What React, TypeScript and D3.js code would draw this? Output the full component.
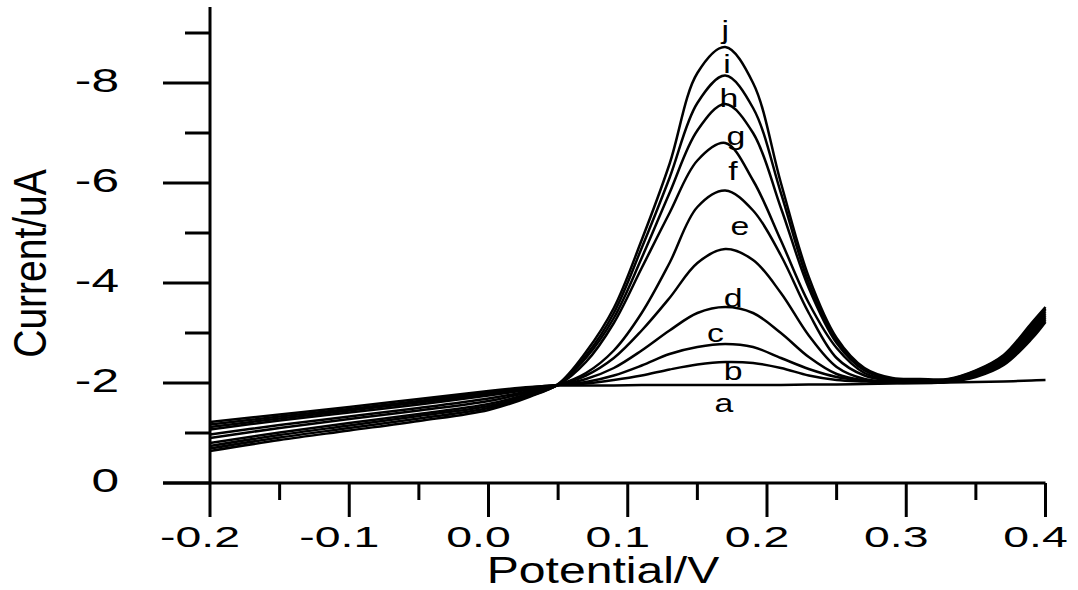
import React from "react";
import * as d3 from "d3";

const potentials = [-0.2, -0.15, -0.1, -0.05, 0.0, 0.03, 0.05, 0.07, 0.09, 0.11, 0.13, 0.15, 0.17, 0.19, 0.21, 0.23, 0.25, 0.27, 0.29, 0.31, 0.33, 0.35, 0.37, 0.39, 0.4];

const curveA = [-1.22, -1.37, -1.52, -1.68, -1.84, -1.92, -1.95, -1.95, -1.95, -1.96, -1.96, -1.96, -1.96, -1.96, -1.96, -1.97, -1.97, -1.98, -1.99, -2.0, -2.01, -2.02, -2.03, -2.05, -2.06];
const curveB = [-1.17, -1.33, -1.48, -1.64, -1.81, -1.91, -1.96, -1.99, -2.06, -2.15, -2.27, -2.37, -2.42, -2.4, -2.3, -2.15, -2.06, -2.03, -2.01, -2.0, -2.02, -2.12, -2.36, -2.88, -3.22];
const curveC = [-1.12, -1.29, -1.45, -1.61, -1.78, -1.89, -1.96, -2.02, -2.15, -2.35, -2.58, -2.72, -2.78, -2.72, -2.5, -2.28, -2.12, -2.05, -2.02, -2.01, -2.03, -2.14, -2.39, -2.92, -3.26];
const curveD = [-1.07, -1.25, -1.41, -1.57, -1.75, -1.87, -1.96, -2.08, -2.3, -2.65, -3.05, -3.4, -3.52, -3.4, -3.0, -2.52, -2.18, -2.05, -2.02, -2.02, -2.03, -2.16, -2.42, -2.96, -3.3];
const curveE = [-0.97, -1.16, -1.33, -1.5, -1.69, -1.84, -1.96, -2.15, -2.5, -3.05, -3.7, -4.4, -4.68, -4.46, -3.8, -2.95, -2.32, -2.08, -2.03, -2.02, -2.04, -2.18, -2.45, -3.0, -3.34];
const curveF = [-0.9, -1.1, -1.28, -1.45, -1.64, -1.82, -1.96, -2.2, -2.65, -3.4, -4.4, -5.52, -5.85, -5.45, -4.55, -3.4, -2.5, -2.15, -2.05, -2.03, -2.04, -2.19, -2.48, -3.05, -3.38];
const curveG = [-0.8, -1.01, -1.2, -1.38, -1.58, -1.79, -1.96, -2.42, -3.2, -4.3, -5.4, -6.45, -6.8, -6.05, -4.85, -3.6, -2.7, -2.2, -2.06, -2.04, -2.05, -2.2, -2.5, -3.1, -3.42];
const curveH = [-0.74, -0.96, -1.15, -1.34, -1.54, -1.77, -1.97, -2.5, -3.3, -4.5, -5.8, -7.05, -7.58, -7.0, -5.5, -3.9, -2.8, -2.25, -2.07, -2.05, -2.06, -2.22, -2.52, -3.14, -3.46];
const curveI = [-0.69, -0.91, -1.1, -1.29, -1.5, -1.75, -1.97, -2.55, -3.4, -4.7, -6.1, -7.6, -8.15, -7.5, -5.8, -4.0, -2.85, -2.28, -2.08, -2.06, -2.07, -2.24, -2.54, -3.17, -3.49];
const curveJ = [-0.64, -0.86, -1.05, -1.24, -1.46, -1.73, -1.98, -2.62, -3.5, -4.86, -6.38, -8.2, -8.72, -8.0, -6.0, -4.12, -2.9, -2.3, -2.1, -2.08, -2.08, -2.25, -2.56, -3.2, -3.52];

const seriesNames = ["a", "b", "c", "d", "e", "f", "g", "h", "i", "j"];
const seriesValues = [curveA, curveB, curveC, curveD, curveE, curveF, curveG, curveH, curveI, curveJ];

// label anchor positions in data units (potential, current at baseline)
const labelPotentials = [0.169, 0.1756, 0.163, 0.1756, 0.1806, 0.1756, 0.1777, 0.1727, 0.1713, 0.17];
const labelCurrents = [-1.42, -2.06, -2.82, -3.52, -4.96, -6.06, -6.76, -7.52, -8.2, -8.88];

const xMajorTicks = [-0.2, -0.1, 0.0, 0.1, 0.2, 0.3, 0.4];
const xMajorLabels = ["-0.2", "-0.1", "0.0", "0.1", "0.2", "0.3", "0.4"];
const xMinorTicks = [-0.15, -0.05, 0.05, 0.15, 0.25, 0.35];
const yMajorTicks = [0, -2, -4, -6, -8];
const yMajorLabels = ["0", "-2", "-4", "-6", "-8"];
const yMinorTicks = [-1, -3, -5, -7, -9];

const FONT = "'Liberation Sans', Arial, Helvetica, sans-serif";

export default function App() {
  const x = d3.scaleLinear().domain([-0.2, 0.4]).range([210, 1045.5]);
  const y = d3.scaleLinear().domain([0, -9.52]).range([483, 7]);

  const line = d3
    .line<[number, number]>()
    .x((d) => x(d[0]))
    .y((d) => y(d[1]))
    .curve(d3.curveCatmullRom.alpha(0.5));

  const x0 = x(-0.2);
  const y0 = y(0);

  return (
    <svg
      width={1078}
      height={590}
      style={{ position: "absolute", left: 0, top: 0, background: "#fff" }}
    >
      <rect x={0} y={0} width={1078} height={590} fill="#fff" />
      {/* curves */}
      <g fill="none" stroke="#000" strokeWidth={2.5} strokeLinejoin="round">
        {seriesValues.map((vals, k) => (
          <path
            key={seriesNames[k]}
            d={line(potentials.map((p, i) => [p, vals[i]] as [number, number])) || ""}
          />
        ))}
      </g>
      {/* curve labels */}
      <g fontFamily={FONT} fontSize={26} fill="#000" textAnchor="middle">
        {seriesNames.map((n, k) => (
          <text
            key={n}
            transform={`translate(${x(labelPotentials[k])},${y(labelCurrents[k])}) scale(1.3,1)`}
          >
            {n}
          </text>
        ))}
      </g>
      {/* axes */}
      <g stroke="#000" strokeWidth={3} strokeLinecap="butt">
        <line x1={x0} x2={x0} y1={y(-9.52)} y2={y0} />
        <line x1={x0 - 47} x2={x(0.4)} y1={y0} y2={y0} />
        {yMajorTicks.map((t) => (
          <line key={"ym" + t} x1={x0 - 47} x2={x0} y1={y(t)} y2={y(t)} />
        ))}
        {yMinorTicks.map((t) => (
          <line key={"yn" + t} x1={x0 - 25} x2={x0} y1={y(t)} y2={y(t)} />
        ))}
        {xMajorTicks.map((t) => (
          <line key={"xm" + t} x1={x(t)} x2={x(t)} y1={y0} y2={y0 + 34} />
        ))}
        {xMinorTicks.map((t) => (
          <line key={"xn" + t} x1={x(t)} x2={x(t)} y1={y0} y2={y0 + 17} />
        ))}
      </g>
      {/* tick labels */}
      <g fontFamily={FONT} fill="#000">
        {yMajorTicks.map((t, i) => (
          <text
            key={"yl" + t}
            fontSize={34}
            textAnchor="end"
            transform={`translate(119,${y(t) + 9}) scale(1.46,1)`}
          >
            {yMajorLabels[i]}
          </text>
        ))}
        {xMajorTicks.map((t, i) => (
          <text
            key={"xl" + t}
            fontSize={29}
            textAnchor="middle"
            transform={`translate(${x(t) - 10},547) scale(1.6,1)`}
          >
            {xMajorLabels[i]}
          </text>
        ))}
      </g>
      {/* axis titles */}
      <text
        fontFamily={FONT}
        fontSize={37}
        textAnchor="middle"
        transform="translate(603,583) scale(1.3,1)"
      >
        Potential/V
      </text>
      <text
        fontFamily={FONT}
        fontSize={39}
        textAnchor="middle"
        transform="translate(46,263.5) scale(1.2,1) rotate(-90)"
      >
        Current/uA
      </text>
    </svg>
  );
}
